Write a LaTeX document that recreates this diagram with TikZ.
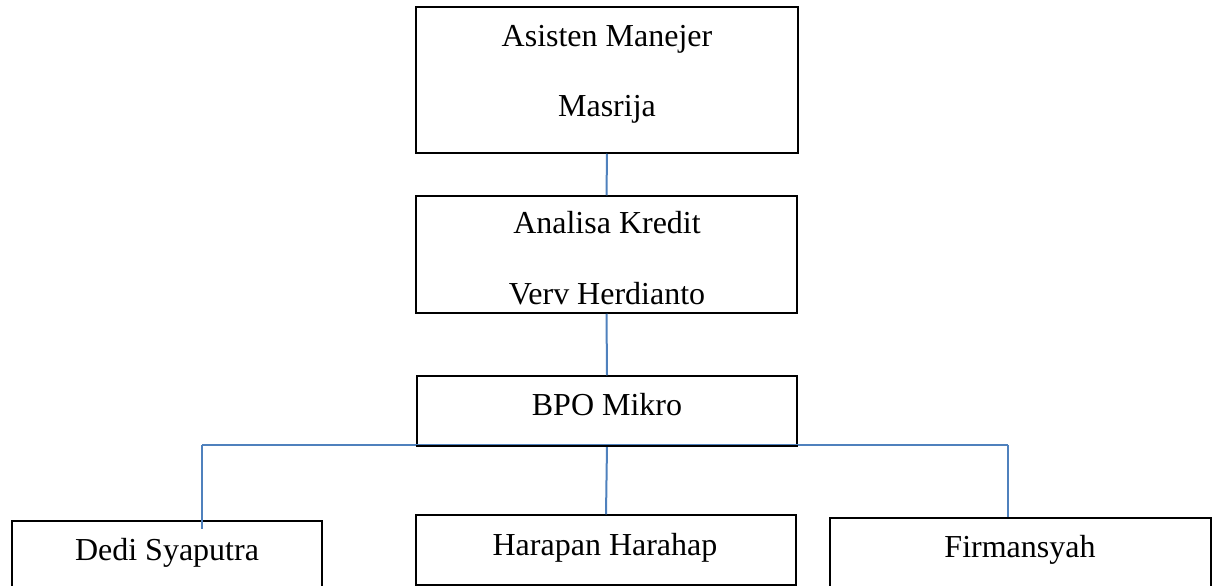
\documentclass[tikz,border=0pt]{standalone}
\usepackage{fontspec}
\setmainfont{Liberation Serif}
\definecolor{linkblue}{HTML}{4F81BD}
\begin{document}
\begin{tikzpicture}[x=1pt,y=-1pt,
  box/.style={draw=black,line width=1.5pt,rectangle,inner sep=0pt},
  lbl/.style={anchor=base,inner sep=0pt,font=\fontsize{32}{38}\selectfont},
  link/.style={draw=linkblue,line width=2pt}]
\useasboundingbox (0,0) rectangle (1216,586);
\clip (0,0) rectangle (1216,586);
% boxes
\node[box,minimum width=382pt,minimum height=146pt] (am) at (607,80) {};
\node[box,minimum width=381pt,minimum height=117pt] (ak) at (606.5,254.5) {};
\node[box,minimum width=380pt,minimum height=69pt] (bpo) at (607,410.5) {};
\node[box,minimum width=310pt,minimum height=79pt] (dedi) at (167,560.5) {};
\node[box,minimum width=380pt,minimum height=70pt] (har) at (606,550) {};
\node[box,minimum width=381pt,minimum height=82pt] (firm) at (1020.5,559) {};
% labels
\node[lbl] (t1) at (607,47) {Asisten Manejer};
\node[lbl] (t2) at (607,117) {Masrija};
\node[lbl] (t3) at (607,233) {Analisa Kredit};
\node[lbl] (t4) at (607,304) {Verv Herdianto};
\node[lbl] (t5) at (607,415) {BPO Mikro};
\node[lbl] (t6) at (167,560) {Dedi Syaputra};
\node[lbl] (t7) at (605,555) {Harapan Harahap};
\node[lbl] (t8) at (1020,557) {Firmansyah};
% connectors
\coordinate (bl) at (202,445);
\coordinate (br) at (1008,445);
\coordinate (dl) at (202,529);
\draw[link] (am.south) -- (ak.north);
\draw[link] (ak.south) -- (bpo.north);
\draw[link] (bl) -- (br);
\draw[link] (bl) -- (dl);
\draw[link] (bpo.south) -- (har.north);
\draw[link] (br) -- (firm.north -| br);
\draw[box] (bpo.south west) -- (bpo.south east);
\end{tikzpicture}
\end{document}
